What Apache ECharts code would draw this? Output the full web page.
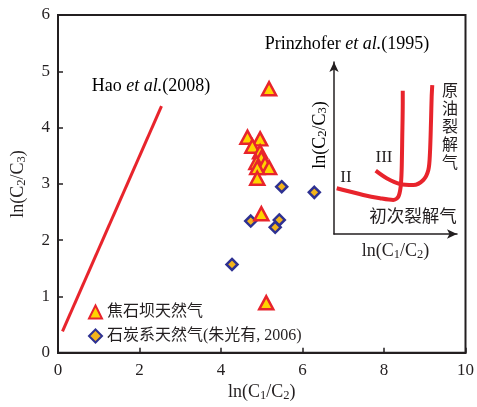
<!DOCTYPE html>
<html>
<head>
<meta charset="utf-8">
<script src="https://cdn.jsdelivr.net/npm/echarts@6/dist/echarts.min.js"></script>
<style>
  html, body { margin: 0; background: #fff; }
  #chart { width: 477px; height: 407px; }
</style>
</head>
<body>
<div id="chart"></div>
<script>
// 焦石坝天然气  [ln(C1/C2), ln(C2/C3)]
const jiaoshiba = [
  [5.18, 4.69], [4.65, 3.83], [4.96, 3.80], [4.77, 3.67], [4.96, 3.57],
  [4.99, 3.46], [4.87, 3.38], [5.08, 3.36], [5.18, 3.29], [4.89, 3.29],
  [4.89, 3.10], [4.99, 2.47], [5.11, 0.89]
];
// 石炭系天然气 (朱光有, 2006)
const carboniferous = [
  [5.49, 2.95], [6.29, 2.85], [4.73, 2.34], [5.43, 2.36], [5.33, 2.23], [4.27, 1.57]
];
// Hao et al. (2008) trend
const haoLine = [[0.11, 0.38], [2.54, 4.38]];
// Prinzhofer et al. (1995) sketch, inset units 0-10
const curveII = [
  [0.22, 2.66], [2.38, 2.27], [3.74, 2.08], [4.82, 1.98], [5.23, 2.17],
  [5.42, 2.75], [5.50, 3.72], [5.55, 5.66], [5.59, 7.60], [5.59, 8.33]
];
const curveIII = [
  [3.39, 3.68], [4.28, 3.24], [5.37, 2.91], [6.45, 2.85], [7.26, 3.14],
  [7.67, 3.72], [7.80, 4.69], [7.89, 6.63], [7.94, 7.98], [7.99, 8.66]
];

const serif = '"Liberation Serif", "Noto Sans CJK SC", serif';
const ink = '#231f20';
const red = '#e8242c';

const rich = {
  a: { fontFamily: serif, fontSize: 18, color: ink },
  s: { fontFamily: serif, fontSize: 12.5, color: ink, padding: [6, 0, 0, 0] },
  i: { fontFamily: serif, fontSize: 18, color: ink, fontStyle: 'italic' }
};
const lnC1C2 = '{a|ln(C}{s|1}{a|/C}{s|2}{a|)}';
const lnC2C3 = '{a|ln(C}{s|2}{a|/C}{s|3}{a|)}';

const chart = echarts.init(document.getElementById('chart'));

chart.setOption({
  animation: false,
  textStyle: { fontFamily: serif },
  grid: [
    { left: 58, right: 4, top: 15, bottom: 49, show: true, borderColor: ink, borderWidth: 2 },
    { left: 334, top: 62, width: 123, height: 172 }
  ],
  xAxis: [
    {
      gridIndex: 0, type: 'value', min: 0, max: 10, interval: 2,
      axisLine: { lineStyle: { color: ink, width: 2 } },
      axisTick: { inside: true, length: 5, lineStyle: { color: ink, width: 1.5 } },
      splitLine: { show: false },
      axisLabel: { fontFamily: serif, fontSize: 17, color: ink, margin: 9 },
      name: lnC1C2, nameLocation: 'middle', nameGap: 29,
      nameTextStyle: { rich: rich }
    },
    {
      gridIndex: 1, type: 'value', min: 0, max: 10,
      axisLine: { symbol: ['none', 'arrow'], symbolSize: [7, 10], lineStyle: { color: ink, width: 1.5 } },
      axisTick: { show: false }, axisLabel: { show: false }, splitLine: { show: false },
      name: lnC1C2, nameLocation: 'middle', nameGap: 8,
      nameTextStyle: { rich: rich }
    }
  ],
  yAxis: [
    {
      gridIndex: 0, type: 'value', min: 0, max: 6, interval: 1,
      axisLine: { lineStyle: { color: ink, width: 2 } },
      axisTick: { inside: true, length: 5, lineStyle: { color: ink, width: 1.5 } },
      splitLine: { show: false },
      axisLabel: { fontFamily: serif, fontSize: 17, color: ink, margin: 8 },
      name: lnC2C3, nameLocation: 'middle', nameGap: 30,
      nameTextStyle: { rich: rich }
    },
    {
      gridIndex: 1, type: 'value', min: 0, max: 10,
      axisLine: { symbol: ['none', 'arrow'], symbolSize: [7, 10], lineStyle: { color: ink, width: 1.5 } },
      axisTick: { show: false }, axisLabel: { show: false }, splitLine: { show: false }
    }
  ],
  legend: {
    orient: 'vertical', left: 83, top: 299, itemGap: 8,
    itemWidth: 13, itemHeight: 13,
    textStyle: { fontFamily: serif, fontSize: 16, color: ink },
    data: ['焦石坝天然气', '石炭系天然气(朱光有, 2006)']
  },
  graphic: [
    {
      type: 'text', x: 151, y: 86,
      style: { text: '{a|Hao }{i|et al.}{a|(2008)}', rich: rich, align: 'center', verticalAlign: 'middle' }
    },
    {
      type: 'text', x: 347, y: 44,
      style: { text: '{a|Prinzhofer }{i|et al.}{a|(1995)}', rich: rich, align: 'center', verticalAlign: 'middle' }
    },
    {
      type: 'text', x: 320, y: 135, rotation: Math.PI / 2,
      style: { text: lnC2C3, rich: rich, align: 'center', verticalAlign: 'middle' }
    },
    {
      type: 'text', x: 346, y: 178,
      style: { text: 'II', fontFamily: serif, fontSize: 17, fill: ink, align: 'center', verticalAlign: 'middle' }
    },
    {
      type: 'text', x: 384, y: 158,
      style: { text: 'III', fontFamily: serif, fontSize: 17, fill: ink, align: 'center', verticalAlign: 'middle' }
    },
    {
      type: 'text', x: 413, y: 217,
      style: { text: '初次裂解气', fontFamily: serif, fontSize: 17.5, fill: ink, align: 'center', verticalAlign: 'middle' }
    },
    {
      type: 'text', x: 450, y: 128,
      style: { text: '原\n油\n裂\n解\n气', fontFamily: serif, fontSize: 16, lineHeight: 18, fill: ink, align: 'center', verticalAlign: 'middle' }
    }
  ],
  series: [
    {
      type: 'line', xAxisIndex: 0, yAxisIndex: 0, data: haoLine,
      showSymbol: false, silent: true, lineStyle: { color: red, width: 3 }
    },
    {
      type: 'line', xAxisIndex: 1, yAxisIndex: 1, data: curveII,
      smooth: 0.3, showSymbol: false, silent: true, lineStyle: { color: red, width: 4 }
    },
    {
      type: 'line', xAxisIndex: 1, yAxisIndex: 1, data: curveIII,
      smooth: 0.3, showSymbol: false, silent: true, lineStyle: { color: red, width: 4 }
    },
    {
      name: '石炭系天然气(朱光有, 2006)', type: 'scatter', xAxisIndex: 0, yAxisIndex: 0,
      data: carboniferous, symbol: 'diamond', symbolSize: 11,
      itemStyle: { color: '#f3b41b', borderColor: '#2e3192', borderWidth: 2.5, opacity: 1 }
    },
    {
      name: '焦石坝天然气', type: 'scatter', xAxisIndex: 0, yAxisIndex: 0,
      data: jiaoshiba, symbol: 'triangle', symbolSize: [14, 13],
      itemStyle: { color: '#ffd400', borderColor: red, borderWidth: 2.5, opacity: 1 }
    }
  ]
});
</script>
</body>
</html>
